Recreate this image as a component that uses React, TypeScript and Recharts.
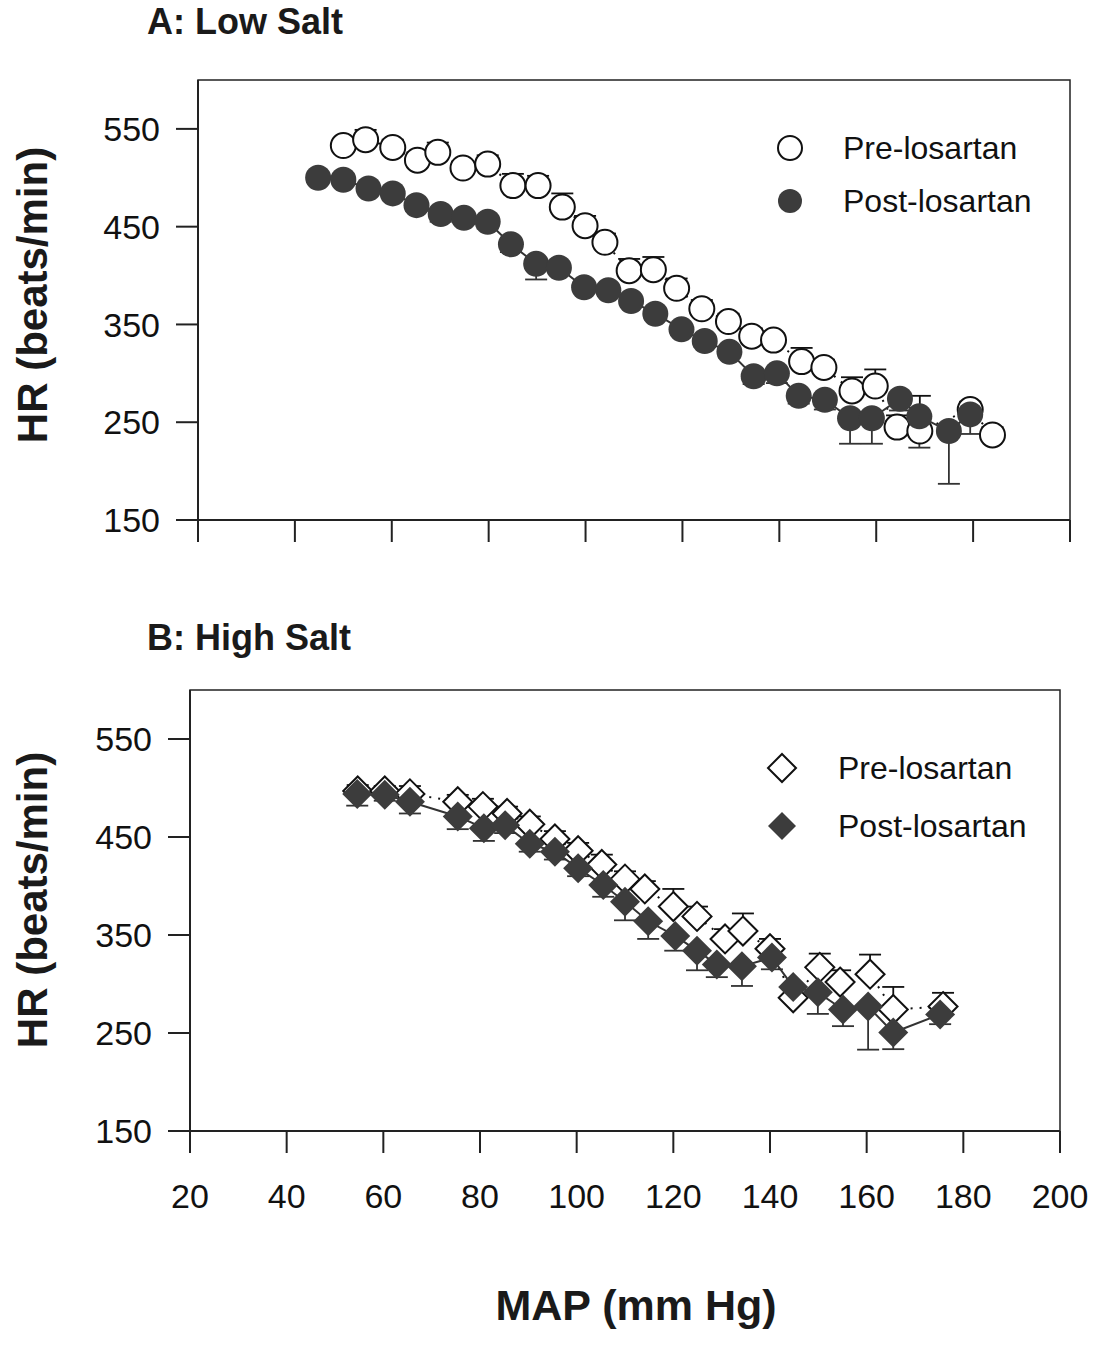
import { ScatterChart, Scatter, XAxis, YAxis, ErrorBar, ReferenceArea, Legend } from 'recharts'

const FONT = '"Liberation Sans", Arial, Helvetica, sans-serif'

const X_TICKS = [20, 40, 60, 80, 100, 120, 140, 160, 180, 200]
const Y_TICKS = [150, 250, 350, 450, 550]

// [MAP mmHg, HR beats/min, SEM]  (pre: bar drawn up, post: bar drawn down)
const LOW_PRE = [
  [50, 533, 6], [54.6, 539, 10], [60.2, 531, 8], [65.3, 518, 8], [69.5, 526, 10],
  [74.7, 510, 7], [79.8, 514, 9], [85, 492, 12], [90.2, 492, 10], [95.2, 470, 14],
  [99.9, 451, 10], [104, 434, 9], [109, 405, 12], [114, 406, 13], [118.8, 387, 10],
  [124, 366, 9], [129.5, 353, 8], [134.3, 338, 8], [138.8, 334, 7], [144.6, 312, 14],
  [149.2, 306, 8], [155, 282, 14], [159.8, 287, 17], [164.3, 245, 12], [169, 241, 36],
  [179.4, 263, 8], [184, 237, 8],
]

const LOW_POST = [
  [44.8, 500, 5], [50, 498, 5], [55.2, 489, 5], [60.2, 484, 5], [65.1, 472, 6],
  [70.1, 463, 8], [74.9, 459, 6], [79.8, 455, 7], [84.6, 432, 8], [89.8, 412, 16],
  [94.5, 408, 6], [99.7, 388, 6], [104.7, 385, 6], [109.4, 374, 6], [114.4, 361, 6],
  [119.8, 345, 6], [124.6, 333, 6], [129.7, 322, 6], [134.7, 297, 8], [139.5, 300, 10],
  [144, 277, 8], [149.4, 273, 10], [154.6, 254, 26], [159.1, 254, 26], [164.9, 274, 12],
  [168.9, 256, 32], [175, 241, 54], [179.4, 258, 20],
]

const HIGH_PRE = [
  [54.7, 497, 6], [60.3, 497, 5], [65.5, 494, 8], [75.4, 486, 7], [80.6, 481, 8],
  [85.6, 474, 7], [90.3, 463, 8], [95.5, 448, 8], [100.3, 436, 8], [105.2, 422, 10],
  [110, 407, 8], [114.1, 397, 8], [120, 379, 18], [124.9, 369, 10], [130.7, 346, 10],
  [134.4, 354, 18], [140, 336, 10], [144.8, 286, 8], [150.3, 317, 14], [154.5, 302, 12],
  [160.7, 310, 20], [165.5, 274, 23], [175.8, 277, 14],
]

const HIGH_POST = [
  [54.6, 494, 12], [60.3, 493, 6], [65.5, 486, 12], [75.4, 471, 13], [80.8, 459, 13],
  [85.2, 462, 8], [90.3, 443, 8], [95.5, 435, 8], [100.3, 418, 8], [105.5, 401, 12],
  [110, 384, 19], [114.8, 364, 18], [120.4, 349, 15], [124.9, 334, 20], [129, 320, 13],
  [134.2, 318, 20], [140.4, 327, 12], [144.8, 297, 10], [149.9, 291.5, 22], [155.1, 274, 17],
  [160.3, 277, 44], [165.5, 250.5, 17], [175.2, 269, 10],
]

// one-sided bars: [below, above]
const toPoints = (rows: number[][], up: boolean) =>
  rows.map(([map, hr, sem]) => ({ map, hr, err: up ? [0, sem] : [sem, 0] }))

const openCircle = (p: any) => <circle cx={p.cx} cy={p.cy} r={12.5} fill="#fff" stroke="#111" strokeWidth={2} />
const filledCircle = (p: any) => <circle cx={p.cx} cy={p.cy} r={13} fill="#3c3c3c" />

function diamondPath(cx: number, cy: number, s: number) {
  return `${cx},${cy - s} ${cx + s},${cy} ${cx},${cy + s} ${cx - s},${cy}`
}
const openDiamond = (p: any) => <polygon points={diamondPath(p.cx, p.cy, 14.5)} fill="#fff" stroke="#111" strokeWidth={2} />
const filledDiamond = (p: any) => <polygon points={diamondPath(p.cx, p.cy, 15)} fill="#3c3c3c" />

const tickStyle = { fontSize: 34, fill: '#111', fontFamily: FONT }
const lineStroke = { stroke: '#222', strokeWidth: 2 }

function LegendBox({ kind, rowH, gap }: { kind: 'circle' | 'diamond'; rowH: number; gap: number }) {
  const rows = [
    { label: 'Pre-losartan', filled: false },
    { label: 'Post-losartan', filled: true },
  ]
  return (
    <div style={{ fontFamily: FONT, fontSize: 32, color: '#111' }}>
      {rows.map((r) => (
        <div key={r.label} style={{ display: 'flex', alignItems: 'center', height: rowH }}>
          <svg width={32} height={32} style={{ marginRight: gap }}>
            {kind === 'circle' ? (
              <circle cx={16} cy={16} r={12} fill={r.filled ? '#3c3c3c' : '#fff'} stroke={r.filled ? 'none' : '#111'} strokeWidth={2} />
            ) : (
              <polygon points={diamondPath(16, 16, 14)} fill={r.filled ? '#3c3c3c' : '#fff'} stroke={r.filled ? 'none' : '#111'} strokeWidth={2} />
            )}
          </svg>
          <span style={{ lineHeight: 1 }}>{r.label}</span>
        </div>
      ))}
    </div>
  )
}

function Panel({ pre, post, kind, showXLabels, height, margin, legendPos, rowH, gap }: any) {
  return (
    <ScatterChart width={1099} height={height} margin={margin}>
      <XAxis
        type="number"
        dataKey="map"
        domain={[20, 200]}
        ticks={X_TICKS}
        height={showXLabels ? 80 : 40}
        tickSize={22}
        tickMargin={31}
        tick={tickStyle}
        tickLine={lineStroke}
        axisLine={lineStroke}
        tickFormatter={(v) => (showXLabels ? String(v) : '')}
      />
      <YAxis
        type="number"
        dataKey="hr"
        domain={[150, 600]}
        ticks={Y_TICKS}
        width={100}
        tickSize={22}
        tickMargin={16}
        tick={tickStyle}
        tickLine={lineStroke}
        axisLine={lineStroke}
      />
      <ReferenceArea x1={20} x2={200} y1={150} y2={600} fill="none" stroke="#222" strokeWidth={1.5} />
      <Scatter
        data={pre}
        shape={kind === 'circle' ? openCircle : openDiamond}
        line={{ stroke: '#111', strokeWidth: 2, strokeDasharray: '2 7' }}
        isAnimationActive={false}
      >
        <ErrorBar dataKey="err" direction="y" width={11} stroke="#111" strokeWidth={1.8} />
      </Scatter>
      <Scatter
        data={post}
        shape={kind === 'circle' ? filledCircle : filledDiamond}
        line={{ stroke: '#333', strokeWidth: 2 }}
        isAnimationActive={false}
      >
        <ErrorBar dataKey="err" direction="y" width={11} stroke="#333" strokeWidth={1.8} />
      </Scatter>
      <Legend
        layout="vertical"
        align="center"
        verticalAlign="middle"
        wrapperStyle={{ left: legendPos.left, top: legendPos.top, width: 320, height: rowH * 2 }}
        content={() => <LegendBox kind={kind} rowH={rowH} gap={gap} />}
      />
    </ScatterChart>
  )
}

const yLabel = (centerY: number) => (
  <div
    style={{
      position: 'absolute',
      left: 33 - 200,
      top: centerY - 21,
      width: 400,
      height: 42,
      lineHeight: '42px',
      fontSize: 42,
      fontWeight: 'bold',
      textAlign: 'center',
      transform: 'rotate(-90deg)',
      transformOrigin: 'center',
      color: '#1a1a1a',
    }}
  >
    HR (beats/min)
  </div>
)

export default function App() {
  return (
    <div style={{ position: 'absolute', left: 0, top: 0, width: 1099, height: 1360, background: '#fff', fontFamily: FONT }}>
      <div style={{ position: 'absolute', left: 147, top: 4, fontSize: 36, fontWeight: 'bold', lineHeight: 1, color: '#1a1a1a' }}>
        A: Low Salt
      </div>
      <div style={{ position: 'absolute', left: 0, top: 0 }}>
        <Panel
          pre={toPoints(LOW_PRE, true)}
          post={toPoints(LOW_POST, false)}
          kind="circle"
          showXLabels={false}
          height={600}
          margin={{ top: 80, right: 29, left: 98, bottom: 40 }}
          legendPos={{ left: 774, top: 121 }}
          rowH={53}
          gap={37}
        />
      </div>
      {yLabel(295)}
      <div style={{ position: 'absolute', left: 147, top: 620, fontSize: 36, fontWeight: 'bold', lineHeight: 1, color: '#1a1a1a' }}>
        B: High Salt
      </div>
      <div style={{ position: 'absolute', left: 0, top: 600 }}>
        <Panel
          pre={toPoints(HIGH_PRE, true)}
          post={toPoints(HIGH_POST, false)}
          kind="diamond"
          showXLabels
          height={640}
          margin={{ top: 90, right: 39, left: 90, bottom: 29 }}
          legendPos={{ left: 766, top: 139 }}
          rowH={58}
          gap={40}
        />
      </div>
      {yLabel(900)}
      <div style={{ position: 'absolute', left: 336, width: 600, top: 1284, fontSize: 43, fontWeight: 'bold', lineHeight: 1, textAlign: 'center', color: '#1a1a1a' }}>
        MAP (mm Hg)
      </div>
    </div>
  )
}
